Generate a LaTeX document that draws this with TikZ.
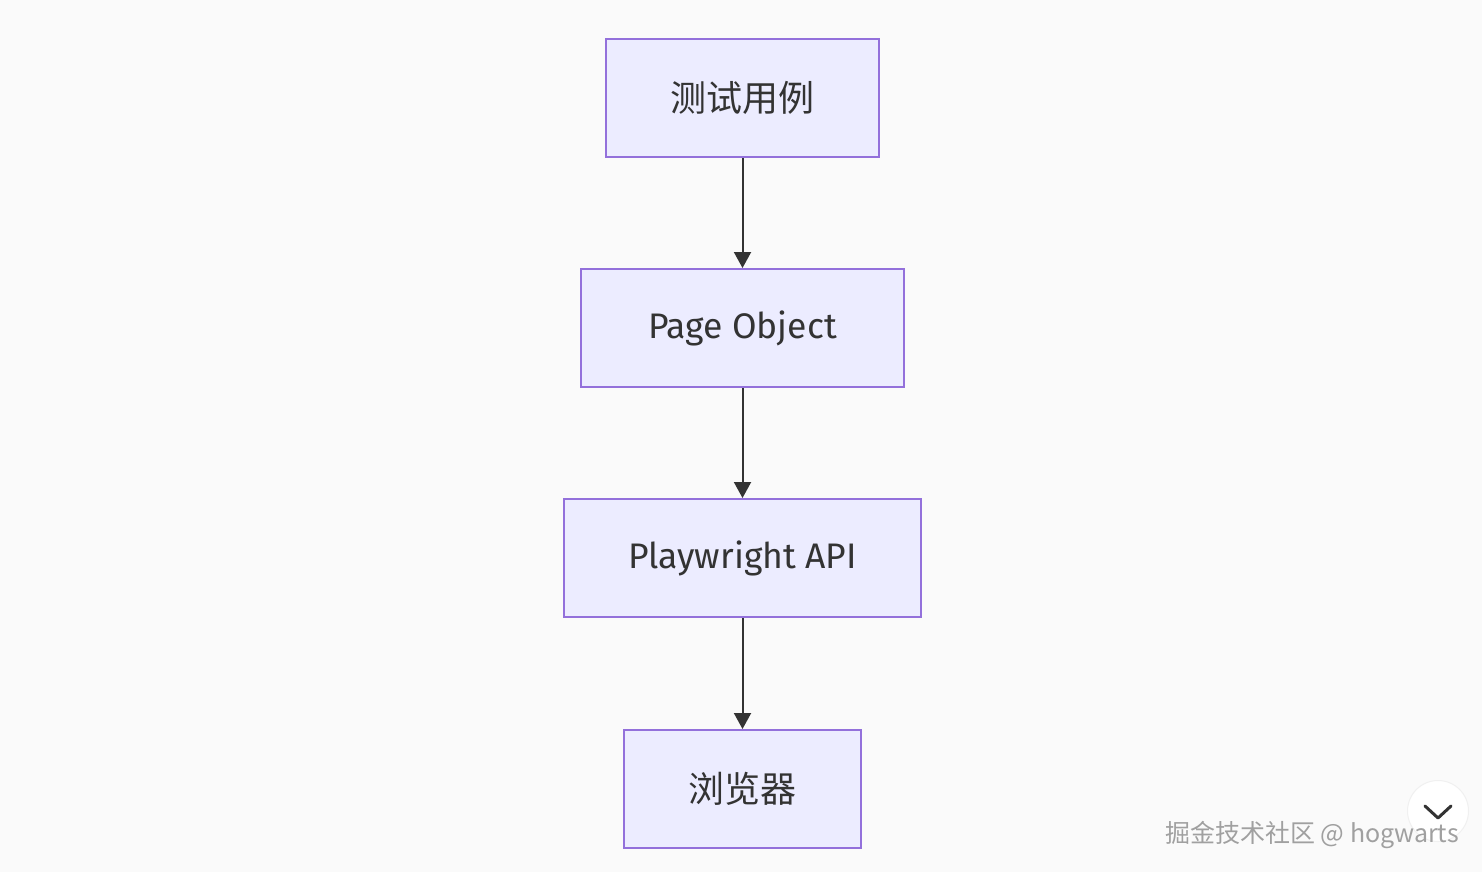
\documentclass[tikz,border=0pt]{standalone}
\usepackage{fontspec}
\setmainfont{Fira Sans}
\newfontfamily\cjk{Noto Sans CJK SC}
\usetikzlibrary{arrows.meta}
\definecolor{bg}{RGB}{250,250,250}
\definecolor{boxfill}{RGB}{236,236,255}
\definecolor{boxline}{RGB}{147,112,219}
\definecolor{ink}{RGB}{51,51,51}
\definecolor{mark}{RGB}{160,160,160}

\begin{document}
\begin{tikzpicture}[x=1pt,y=-1pt,
  box/.style={draw=boxline, fill=boxfill, line width=2pt, inner sep=0pt,
    minimum height=118pt, text=ink, font=\fontsize{35.5}{40}\selectfont},
  flow/.style={-{Triangle[length=16pt,width=17pt]}, ink, line width=2pt}]
\fill[bg] (0,0) rectangle (1482,872);
\useasboundingbox (0,0) rectangle (1482,872);

% the four steps
\node[box, minimum width=273pt] (cases) at (742.5,98) {\cjk\fontsize{36}{40}\selectfont 测试用例};
\node[box, minimum width=323pt] (pageobj) at (742.5,328) {Page Object};
\node[box, minimum width=357pt] (api) at (742.5,558) {Playwright API};
\node[box, minimum width=237pt] (browser) at (742.5,789) {\cjk\fontsize{36}{40}\selectfont 浏览器};

\draw[flow] (cases) -- (pageobj);
\draw[flow] (pageobj) -- (api);
\draw[flow] (api) -- (browser);

% watermark and button
\node[draw=black!6, fill=white, circle, minimum size=61pt, line width=1pt] (btn) at (1438,811) {};
\draw[ink, line width=3pt, line cap=round, line join=round]
  ([shift={(-13,-5)}]btn.center) -- ([shift={(0,7)}]btn.center) -- ([shift={(13,-5)}]btn.center);
\node[anchor=base east, text=mark, inner sep=0pt, font=\cjk\fontsize{25}{28}\selectfont] (wm) at (1459,842) {掘金技术社区 @ hogwarts};
\end{tikzpicture}
\end{document}
